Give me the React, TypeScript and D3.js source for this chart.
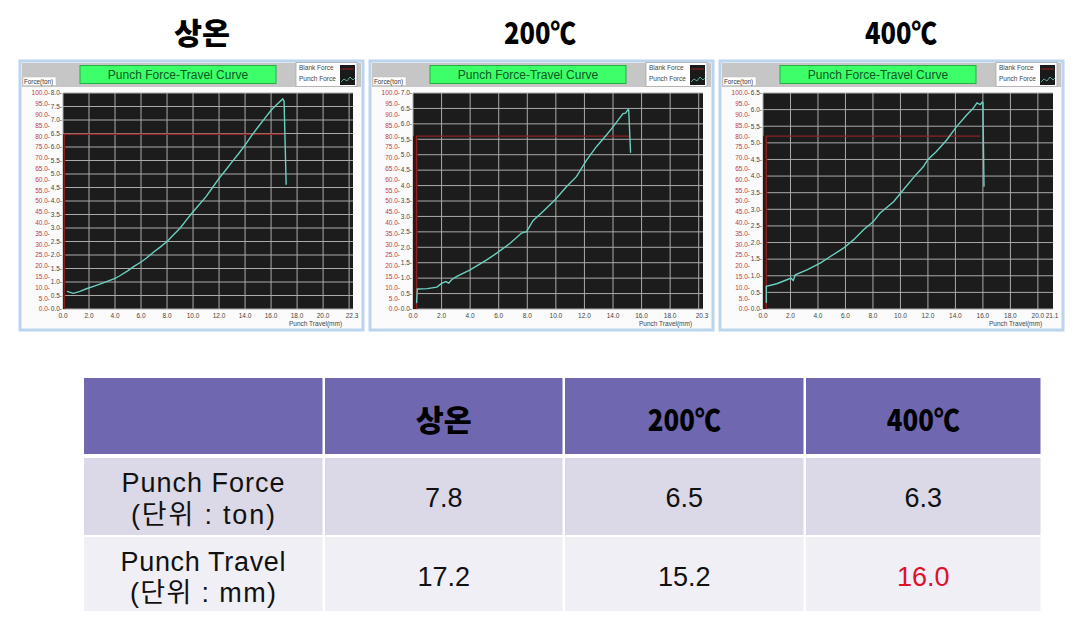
import React from 'react';
import * as d3 from 'd3';

// ---- Data ----
const TITLES = ['상온', '200℃', '400℃'];
const X_MAX = [22.3, 20.3, 21.1];
const TON_MAX = [8.0, 7.0, 6.5];
const PCT_TICKS = d3.range(0, 100.01, 5);

const travel1 = [0.3, 0.8, 1.3, 1.8, 2.4, 3.0, 3.4, 4.0, 4.4, 5.0, 5.4, 6.0, 6.4, 7.0, 7.5, 8.0, 8.5, 9.0, 9.5, 10.0, 10.5, 11.0, 11.5, 12.0, 12.5, 13.0, 13.5, 14.0, 14.5, 15.0, 15.5, 16.0, 16.5, 16.9, 17.0, 17.16];
const force1 = [0.65, 0.58, 0.65, 0.75, 0.85, 0.95, 1.02, 1.13, 1.24, 1.42, 1.56, 1.74, 1.88, 2.12, 2.3, 2.5, 2.75, 2.99, 3.3, 3.6, 3.88, 4.16, 4.5, 4.84, 5.14, 5.45, 5.75, 6.07, 6.42, 6.74, 7.05, 7.36, 7.6, 7.78, 7.7, 4.6];

const travel2 = [0.25, 0.3, 1.0, 1.67, 2.0, 2.3, 2.5, 2.7, 3.07, 4.0, 5.16, 5.86, 6.8, 7.6, 7.95, 8.4, 9.1, 9.93, 10.74, 11.44, 12.14, 12.84, 13.53, 14.0, 14.7, 14.88, 15.05, 15.1, 15.23];
const force2 = [0.19, 0.65, 0.66, 0.71, 0.83, 0.89, 0.84, 0.95, 1.06, 1.27, 1.59, 1.81, 2.13, 2.46, 2.51, 2.86, 3.16, 3.53, 3.96, 4.29, 4.82, 5.26, 5.63, 5.9, 6.33, 6.35, 6.46, 6.45, 5.06];

const travel3 = [0.24, 0.24, 1.0, 1.74, 2.03, 2.2, 2.35, 3.2, 4.16, 4.9, 5.85, 6.58, 7.3, 8.03, 8.5, 9.5, 10.2, 10.9, 11.66, 12.0, 12.6, 13.35, 14.07, 14.8, 15.28, 15.57, 15.8, 15.96, 16.0, 16.08];
const force3 = [0.18, 0.68, 0.76, 0.88, 0.93, 0.86, 1.03, 1.18, 1.38, 1.58, 1.83, 2.08, 2.38, 2.63, 2.88, 3.23, 3.58, 3.93, 4.28, 4.5, 4.73, 5.08, 5.48, 5.83, 6.03, 6.2, 6.15, 6.23, 6.2, 3.68];

const TRAVELS = [travel1, travel2, travel3];
const FORCES = [force1, force2, force3];

// Blank force (percent scale)
const BLANK_PCT = [80.9, 80.0, 80.0];
const BLANK_START = [0.1, 0.25, 0.24];
const BLANK_END = [17.0, 15.2, 15.8];

// Table
const TABLE_HEAD = ['상온', '200℃', '400℃'];
const ROW_LABELS = [['Punch Force', '(단위 : ton)'], ['Punch Travel', '(단위 : mm)']];
const PUNCH_FORCE = [7.8, 6.5, 6.3];
const PUNCH_TRAVEL = [17.2, 15.2, 16.0];

const PANEL_X = [20, 370, 720];
const TITLE_X = [202, 540, 901];
const TITLE_LEN = [56, 72, 72];

const fmt1 = d3.format('.1f');
const SMALL = "'Liberation Sans', Arial, sans-serif";

function Panel({ i }: { i: number }) {
  const x0 = PANEL_X[i];
  const left = x0 + 43, right = x0 + 333, top = 93, bottom = 309;
  const xMax = X_MAX[i], tonMax = TON_MAX[i];
  const x = d3.scaleLinear().domain([0, xMax]).range([left, right]);
  const yT = d3.scaleLinear().domain([0, tonMax]).range([bottom, top]);
  const yP = d3.scaleLinear().domain([0, 100]).range([bottom, top]);
  const tonTicks = d3.range(0, tonMax + 0.01, 0.5);
  const gridX = d3.range(0, xMax + 0.01, 2);
  const labelX = d3.range(0, xMax - 0.5, 2);
  const line = d3.line<[number, number]>();
  const pts: [number, number][] = TRAVELS[i].map((t, k) => [x(t), yT(FORCES[i][k])]);
  const blank: [number, number][] = [
    [x(BLANK_START[i]), yP(0)],
    [x(BLANK_START[i]), yP(BLANK_PCT[i])],
    [x(BLANK_END[i]), yP(BLANK_PCT[i])],
  ];
  return (
    <g>
      <rect x={x0} y={61} width={343} height={269} fill="#fbfbfb" stroke="#bcd5ee" strokeWidth={3} />
      <rect x={x0 + 2} y={63} width={339} height={24} fill="#c6c6c6" />
      {/* title box */}
      <rect x={x0 + 60} y={65.5} width={196} height={18} fill="#3dff6a" stroke="#22b040" strokeWidth={1} />
      <text x={x0 + 158} y={79} textAnchor="middle" fontFamily={SMALL} fontSize={12} fill="#0b5a1e">Punch Force-Travel Curve</text>
      {/* legend */}
      <rect x={x0 + 276} y={62.5} width={61} height={24} fill="#ffffff" stroke="#a8a8a8" strokeWidth={0.8} />
      <text x={x0 + 279} y={70} fontFamily={SMALL} fontSize={6.5} fill="#444">Blank Force</text>
      <text x={x0 + 279} y={81} fontFamily={SMALL} fontSize={6.5} fill="#444">Punch Force</text>
      <rect x={x0 + 320} y={65} width={15} height={20} fill="#1a1a1a" />
      <line x1={x0 + 321} x2={x0 + 334} y1={69} y2={69} stroke="#9a2020" strokeWidth={1} />
      <path d={`M${x0 + 321},82 l3,-3 l3,2 l3,-4 l3,3 l2,-2`} fill="none" stroke="#66ccbb" strokeWidth={0.8} />
      {/* force label */}
      <rect x={x0 + 3} y={77} width={33} height={8.5} fill="#ffffff" stroke="#bbb" strokeWidth={0.5} />
      <text x={x0 + 4} y={83.5} fontFamily={SMALL} fontSize={6.3} fill="#333">Force(ton)</text>
      {/* plot */}
      <rect x={left} y={top} width={right - left} height={bottom - top} fill="#1c1c1c" />
      {gridX.map((g) => (
        <line key={'gx' + g} x1={x(g)} x2={x(g)} y1={top} y2={bottom} stroke="#aaaaaa" strokeWidth={1} />
      ))}
      {tonTicks.map((g) => (
        <line key={'gy' + g} x1={left} x2={right} y1={yT(g)} y2={yT(g)} stroke="#aaaaaa" strokeWidth={1} />
      ))}
      <rect x={left} y={yP(BLANK_PCT[i])} width={Math.max(2, x(BLANK_START[i]) - left + 1)} height={bottom - yP(BLANK_PCT[i])} fill="#3a1414" />
      <path d={line(blank) || ''} fill="none" stroke="#8c2222" strokeWidth={1.3} />
      <path d={line(pts) || ''} fill="none" stroke="#6ad0c0" strokeWidth={1.4} />
      {/* y labels */}
      {PCT_TICKS.map((p) => (
        <text key={'p' + p} x={left - 13} y={yP(p) + 2.3} textAnchor="end" fontFamily={SMALL} fontSize={6.5} fill="#c23a3a">{fmt1(p)}-</text>
      ))}
      {tonTicks.map((t) => (
        <text key={'t' + t} x={left - 1} y={yT(t) + 2.3} textAnchor="end" fontFamily={SMALL} fontSize={6.5} fill="#444">{fmt1(t)}-</text>
      ))}
      {/* x labels */}
      {labelX.map((t) => (
        <text key={'x' + t} x={x(t)} y={318} textAnchor="middle" fontFamily={SMALL} fontSize={6.5} fill="#444">{fmt1(t)}</text>
      ))}
      <text x={x(xMax) - 1} y={318} textAnchor="middle" fontFamily={SMALL} fontSize={6.5} fill="#444">{fmt1(xMax)}</text>
      <text x={x0 + 269} y={325.5} fontFamily={SMALL} fontSize={6.5} fill="#444">Punch Travel(mm)</text>
      {/* title */}
      <text x={TITLE_X[i]} y={43.5} textAnchor="middle" fontFamily="'Noto Sans CJK KR', sans-serif" fontWeight={900} fontSize={30} fill="#000" textLength={TITLE_LEN[i]} lengthAdjust="spacingAndGlyphs">{TITLES[i]}</text>
    </g>
  );
}

function Table() {
  const colX = [84, 325, 565, 806, 1043];
  const rowY = [378, 458, 537, 613];
  const gap = 2.5;
  const bodyFont = "'Liberation Sans', 'Noto Sans CJK KR', sans-serif";
  const headFill = '#6f68b1';
  const rowFill = ['#dbd9e7', '#efeff5'];
  const values = [PUNCH_FORCE, PUNCH_TRAVEL];
  const headLen = [56, 73, 73];
  const labelLen = [[163, 144], [165, 146]];
  return (
    <g>
      {[0, 1, 2, 3].map((c) => (
        <rect key={'h' + c} x={colX[c]} y={rowY[0]} width={colX[c + 1] - colX[c] - gap} height={rowY[1] - rowY[0] - 4} fill={headFill} />
      ))}
      {TABLE_HEAD.map((h, c) => (
        <text key={'ht' + c} x={(colX[c + 1] + colX[c + 2] - gap) / 2} y={431} textAnchor="middle" fontFamily="'Noto Sans CJK KR', sans-serif" fontWeight={900} fontSize={30} fill="#000" textLength={headLen[c]} lengthAdjust="spacingAndGlyphs">{h}</text>
      ))}
      {[0, 1].map((r) => (
        <g key={'r' + r}>
          {[0, 1, 2, 3].map((c) => (
            <rect key={c} x={colX[c]} y={rowY[r + 1]} width={colX[c + 1] - colX[c] - gap} height={rowY[r + 2] - rowY[r + 1] - 2} fill={rowFill[r]} />
          ))}
          <text x={203} y={r === 0 ? 492 : 571} textAnchor="middle" fontFamily={bodyFont} fontSize={27} fill="#111" textLength={labelLen[r][0]} lengthAdjust="spacing">{ROW_LABELS[r][0]}</text>
          <text x={203} y={r === 0 ? 524 : 602} textAnchor="middle" fontFamily={bodyFont} fontSize={27} fill="#111" textLength={labelLen[r][1]} lengthAdjust="spacing">{ROW_LABELS[r][1]}</text>
          {values[r].map((v, c) => (
            <text key={'v' + c} x={(colX[c + 1] + colX[c + 2] - gap) / 2} y={r === 0 ? 507 : 586} textAnchor="middle" fontFamily={bodyFont} fontSize={27} fill={r === 1 && c === 2 ? '#e0102a' : '#111'}>{fmt1(v)}</text>
          ))}
        </g>
      ))}
    </g>
  );
}

export default function App() {
  return (
    <svg width={1082} height={638} style={{ position: 'absolute', left: 0, top: 0, background: '#fff' }}>
      <rect x={0} y={0} width={1082} height={638} fill="#fff" />
      {[0, 1, 2].map((i) => <Panel key={i} i={i} />)}
      <Table />
    </svg>
  );
}
